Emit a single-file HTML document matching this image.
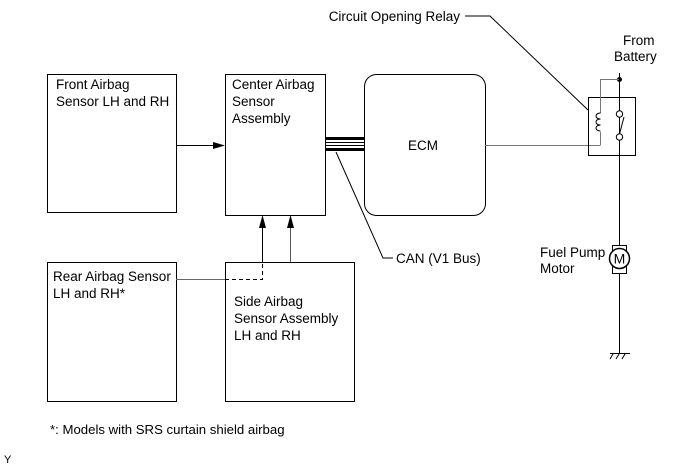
<!DOCTYPE html>
<html><head><meta charset="utf-8"><style>
body{margin:0;background:#fff}
svg text{font-family:"Liberation Sans",Arial,sans-serif;font-size:13.5px;fill:#000}
</style></head><body>
<svg width="690" height="465" viewBox="0 0 690 465" xmlns="http://www.w3.org/2000/svg">
<g fill="none" stroke="#000" stroke-width="1">
<rect x="47.5" y="74.5" width="129" height="138"/>
<rect x="225.5" y="74.5" width="100" height="141"/>
<rect x="364.5" y="74.5" width="121" height="141" rx="12"/>
<rect x="47.5" y="262.5" width="129" height="139"/>
<rect x="225.5" y="262.5" width="129" height="139"/>
</g>
<rect x="325" y="137" width="39" height="3" fill="#000"/>
<rect x="325" y="148" width="39" height="3" fill="#000"/>
<line x1="325" y1="142.5" x2="364" y2="142.5" stroke="#000"/>
<line x1="325" y1="145.5" x2="364" y2="145.5" stroke="#000"/>
<polyline points="336,152 383,258 393,258" fill="none" stroke="#000"/>
<line x1="176" y1="145.5" x2="215" y2="145.5" stroke="#000"/>
<polygon points="225,145.5 213,142 213,149" fill="#000"/>
<line x1="262.5" y1="226" x2="262.5" y2="262" stroke="#000"/>
<polygon points="262.5,215 259,228 266,228" fill="#000"/>
<line x1="290.5" y1="226" x2="290.5" y2="262" stroke="#555"/>
<polygon points="290.5,215 287,228 294,228" fill="#000"/>
<line x1="176" y1="279.5" x2="225" y2="279.5" stroke="#666"/>
<polyline points="225,279.5 262.5,279.5 262.5,262" fill="none" stroke="#000" stroke-dasharray="4,3"/>
<line x1="485" y1="145.5" x2="600" y2="145.5" stroke="#777"/>
<rect x="588.5" y="97.5" width="47" height="58" fill="none" stroke="#000"/>
<line x1="619.5" y1="73" x2="619.5" y2="353" stroke="#000"/>
<circle cx="619.5" cy="79.5" r="2.5" fill="#000"/>
<polyline points="619,79.5 600.5,79.5 600.5,113" fill="none" stroke="#777"/>
<polyline points="600.5,132 600.5,145.5" fill="none" stroke="#777"/>
<path d="M600.5,113 c-6,0 -6,6 0,6 c-6,0 -6,6 0,6 c-6,0 -6,6 0,6" fill="none" stroke="#000"/>
<circle cx="619.5" cy="114" r="3.2" fill="#fff" stroke="#000"/>
<circle cx="619.5" cy="137" r="3.2" fill="#fff" stroke="#000"/>
<line x1="619.5" y1="134" x2="624" y2="117" stroke="#000"/>
<polyline points="465,16 490,16 588,110" fill="none" stroke="#000"/>
<rect x="612.5" y="245.5" width="14" height="28" fill="#fff" stroke="#000"/>
<circle cx="619.5" cy="258.5" r="10" fill="#fff" stroke="#000" stroke-width="1.5"/>
<text x="619.5" y="263.5" text-anchor="middle" style="font-size:14px">M</text>
<line x1="610" y1="353.5" x2="630" y2="353.5" stroke="#000"/>
<g stroke="#000"><line x1="613" y1="354" x2="610" y2="359"/><line x1="619" y1="354" x2="616" y2="359"/><line x1="625" y1="354" x2="622" y2="359"/></g>
<text x="56" y="89">Front Airbag</text><text x="56" y="106">Sensor LH and RH</text>
<text x="232" y="89">Center Airbag</text><text x="232" y="106">Sensor</text><text x="232" y="123">Assembly</text>
<text x="408" y="150">ECM</text>
<text x="53" y="281">Rear Airbag Sensor</text><text x="53" y="298">LH and RH*</text>
<text x="234" y="306">Side Airbag</text><text x="234" y="323">Sensor Assembly</text><text x="234" y="340">LH and RH</text>
<text x="396" y="263">CAN (V1 Bus)</text>
<text x="460" y="21" text-anchor="end">Circuit Opening Relay</text>
<text x="623" y="45">From</text><text x="614" y="61">Battery</text>
<text x="540" y="257">Fuel Pump</text><text x="540" y="273">Motor</text>
<text x="50" y="434" style="font-size:13.2px">*: Models with SRS curtain shield airbag</text>
<text x="4" y="463" style="font-size:11px">Y</text>
</svg>
</body></html>
